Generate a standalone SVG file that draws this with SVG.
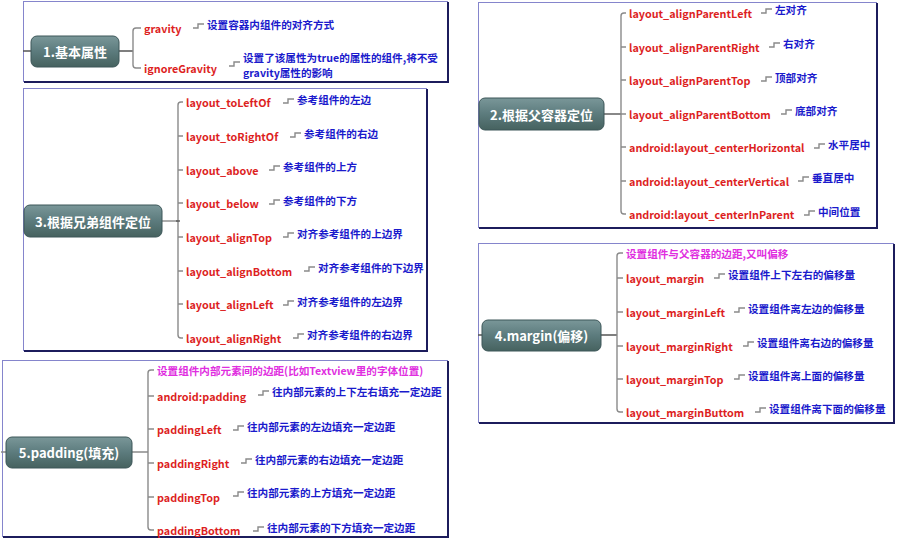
<svg xmlns="http://www.w3.org/2000/svg" xmlns:xlink="http://www.w3.org/1999/xlink" width="897" height="538" viewBox="0 0 897 538">
<defs>
<linearGradient id="ng" x1="0" y1="0" x2="0" y2="1">
<stop offset="0" stop-color="#7a9799"/>
<stop offset="0.5" stop-color="#5c7b7d"/>
<stop offset="1" stop-color="#46625f"/>
</linearGradient>
<path id="dc" d="M0,4 h5 v-4 h6" fill="none" stroke="#8a8a8a" stroke-width="1.4"/>
<style>
.box{fill:#fff;stroke:#8585cc;stroke-width:1}
.sh{stroke:#1c1c5c;stroke-width:2;fill:none}
.nr{fill:url(#ng);stroke:#3c5658;stroke-width:1}
.nt{fill:#fff;font:bold 13px "Noto Sans CJK SC","Open Sans",sans-serif;text-anchor:middle;dominant-baseline:central}
.lb{fill:#dd1f1f;font:bold 10.8px "Noto Sans CJK SC","Open Sans",sans-serif;dominant-baseline:central}
.ds{fill:#1a1acc;font:bold 10.6px "Noto Sans CJK SC",sans-serif;dominant-baseline:central}
.mg{fill:#e02ee0;font:bold 10.6px "Noto Sans CJK SC",sans-serif;dominant-baseline:central}
.ln{fill:none;stroke:#8a8a8a;stroke-width:1.4}
.dk{fill:none;stroke:#555;stroke-width:1.4}
</style>
</defs>
<rect width="897" height="538" fill="#fff"/>

<!-- frames -->
<g id="frames">
<rect class="box" x="23.5" y="1.5" width="424" height="80"/>
<path class="sh" d="M448,2 V82 H24"/>
<rect class="box" x="23.5" y="88.5" width="403" height="262"/>
<path class="sh" d="M427,89 V351 H24"/>
<rect class="box" x="2.5" y="360.5" width="445" height="176"/>
<path class="sh" d="M448,361 V537 H3"/>
<rect class="box" x="478.5" y="2.5" width="398" height="225"/>
<path class="sh" d="M877,3 V228 H479"/>
<rect class="box" x="478.5" y="243.5" width="415" height="179"/>
<path class="sh" d="M894,244 V423 H479"/>
</g>

<!-- connectors -->
<g id="connectors">
<!-- section 1 -->
<path class="dk" d="M23,51 H31 M119,51 H133"/>
<path class="ln" d="M141,28 H136 Q133,28 133,31 V65 Q133,68 136,68 H141"/>
<use href="#dc" x="193" y="24"/>
<use href="#dc" x="229" y="62"/>
<!-- section 3 -->
<path class="ln" d="M162,221 H178"/>
<path class="ln" d="M183,102 H181 Q178,102 178,105 V335 Q178,338 181,338 H183 M178,136 H183 M178,170 H183 M178,203 H183 M178,237 H183 M178,271 H183 M178,304 H183"/>
<path class="dk" d="M176,221 H180"/>
<use href="#dc" x="283" y="99"/>
<use href="#dc" x="290" y="133"/>
<use href="#dc" x="269" y="166"/>
<use href="#dc" x="269" y="200"/>
<use href="#dc" x="283" y="233"/>
<use href="#dc" x="304" y="267"/>
<use href="#dc" x="283" y="301"/>
<use href="#dc" x="293" y="334"/>
<!-- section 5 -->
<path class="ln" d="M1,452 H6 M132,452 H148"/>
<path class="ln" d="M154,370 H151 Q148,370 148,373 V527 Q148,530 151,530 H154 M148,396 H154 M148,429 H154 M148,463 H154 M148,497 H154"/>
<use href="#dc" x="258" y="391"/>
<use href="#dc" x="233" y="426"/>
<use href="#dc" x="241" y="459"/>
<use href="#dc" x="233" y="492"/>
<use href="#dc" x="253" y="527"/>
<!-- section 2 -->
<path class="dk" d="M604,114 H621"/>
<path class="ln" d="M626,13 H624 Q621,13 621,16 V211 Q621,214 624,214 H626 M621,47 H626 M621,80 H626 M621,114 H626 M621,147 H626 M621,181 H626"/>
<use href="#dc" x="761" y="9"/>
<use href="#dc" x="769" y="43"/>
<use href="#dc" x="761" y="77"/>
<use href="#dc" x="781" y="110"/>
<use href="#dc" x="814" y="144"/>
<use href="#dc" x="798" y="177"/>
<use href="#dc" x="804" y="211"/>
<!-- section 4 -->
<path class="dk" d="M478,335 H482 M601,335 H617"/>
<path class="ln" d="M623,253 H620 Q617,253 617,256 V409 Q617,412 620,412 H623 M617,278 H623 M617,312 H623 M617,346 H623 M617,379 H623"/>
<use href="#dc" x="714" y="274"/>
<use href="#dc" x="734" y="308"/>
<use href="#dc" x="743" y="342"/>
<use href="#dc" x="734" y="375"/>
<use href="#dc" x="755" y="408"/>
</g>

<!-- section 1 -->
<g id="n1">
<rect class="nr" x="31" y="36" width="88" height="31" rx="6"/>
<text class="nt" x="75" y="51">1.基本属性</text>
</g>
<g id="n1-gravity"><text class="lb" x="144" y="28">gravity</text><text class="ds" x="207" y="24">设置容器内组件的对齐方式</text></g>
<g id="n1-ignore"><text class="lb" x="144" y="68">ignoreGravity</text><text class="ds" x="243" y="57">设置了该属性为true的属性的组件,将不受</text><text class="ds" x="243" y="72">gravity属性的影响</text></g>

<!-- section 3 -->
<g id="n3">
<rect class="nr" x="24" y="205" width="138" height="32" rx="6"/>
<text class="nt" x="93" y="221">3.根据兄弟组件定位</text>
</g>
<g id="n3-c1"><text class="lb" x="186" y="102">layout_toLeftOf</text><text class="ds" x="297" y="99">参考组件的左边</text></g>
<g id="n3-c2"><text class="lb" x="186" y="136">layout_toRightOf</text><text class="ds" x="304" y="133">参考组件的右边</text></g>
<g id="n3-c3"><text class="lb" x="186" y="170">layout_above</text><text class="ds" x="283" y="166">参考组件的上方</text></g>
<g id="n3-c4"><text class="lb" x="186" y="203">layout_below</text><text class="ds" x="283" y="200">参考组件的下方</text></g>
<g id="n3-c5"><text class="lb" x="186" y="237">layout_alignTop</text><text class="ds" x="297" y="233">对齐参考组件的上边界</text></g>
<g id="n3-c6"><text class="lb" x="186" y="271">layout_alignBottom</text><text class="ds" x="318" y="267">对齐参考组件的下边界</text></g>
<g id="n3-c7"><text class="lb" x="186" y="304">layout_alignLeft</text><text class="ds" x="297" y="301">对齐参考组件的左边界</text></g>
<g id="n3-c8"><text class="lb" x="186" y="338">layout_alignRight</text><text class="ds" x="307" y="334">对齐参考组件的右边界</text></g>

<!-- section 5 -->
<g id="n5">
<rect class="nr" x="6" y="437" width="126" height="31" rx="6"/>
<text class="nt" x="69" y="452">5.padding(填充)</text>
</g>
<g id="n5-c0"><text class="mg" x="157" y="370">设置组件内部元素间的边距(比如Textview里的字体位置)</text></g>
<g id="n5-c1"><text class="lb" x="157" y="396">android:padding</text><text class="ds" x="272" y="391">往内部元素的上下左右填充一定边距</text></g>
<g id="n5-c2"><text class="lb" x="157" y="429">paddingLeft</text><text class="ds" x="247" y="426">往内部元素的左边填充一定边距</text></g>
<g id="n5-c3"><text class="lb" x="157" y="463">paddingRight</text><text class="ds" x="255" y="459">往内部元素的右边填充一定边距</text></g>
<g id="n5-c4"><text class="lb" x="157" y="497">paddingTop</text><text class="ds" x="247" y="492">往内部元素的上方填充一定边距</text></g>
<g id="n5-c5"><text class="lb" x="157" y="530">paddingBottom</text><text class="ds" x="267" y="527">往内部元素的下方填充一定边距</text></g>

<!-- section 2 -->
<g id="n2">
<rect class="nr" x="479" y="98" width="125" height="32" rx="6"/>
<text class="nt" x="541.5" y="114">2.根据父容器定位</text>
</g>
<g id="n2-c1"><text class="lb" x="629" y="13">layout_alignParentLeft</text><text class="ds" x="775" y="9">左对齐</text></g>
<g id="n2-c2"><text class="lb" x="629" y="47">layout_alignParentRight</text><text class="ds" x="783" y="43">右对齐</text></g>
<g id="n2-c3"><text class="lb" x="629" y="80">layout_alignParentTop</text><text class="ds" x="775" y="77">顶部对齐</text></g>
<g id="n2-c4"><text class="lb" x="629" y="114">layout_alignParentBottom</text><text class="ds" x="795" y="110">底部对齐</text></g>
<g id="n2-c5"><text class="lb" x="629" y="147">android:layout_centerHorizontal</text><text class="ds" x="828" y="144">水平居中</text></g>
<g id="n2-c6"><text class="lb" x="629" y="181">android:layout_centerVertical</text><text class="ds" x="812" y="177">垂直居中</text></g>
<g id="n2-c7"><text class="lb" x="629" y="214">android:layout_centerInParent</text><text class="ds" x="818" y="211">中间位置</text></g>

<!-- section 4 -->
<g id="n4">
<rect class="nr" x="482" y="320" width="119" height="31" rx="6"/>
<text class="nt" x="541.5" y="335">4.margin(偏移)</text>
</g>
<g id="n4-c0"><text class="mg" x="626" y="253">设置组件与父容器的边距,又叫偏移</text></g>
<g id="n4-c1"><text class="lb" x="626" y="278">layout_margin</text><text class="ds" x="728" y="274">设置组件上下左右的偏移量</text></g>
<g id="n4-c2"><text class="lb" x="626" y="312">layout_marginLeft</text><text class="ds" x="748" y="308">设置组件离左边的偏移量</text></g>
<g id="n4-c3"><text class="lb" x="626" y="346">layout_marginRight</text><text class="ds" x="757" y="342">设置组件离右边的偏移量</text></g>
<g id="n4-c4"><text class="lb" x="626" y="379">layout_marginTop</text><text class="ds" x="748" y="375">设置组件离上面的偏移量</text></g>
<g id="n4-c5"><text class="lb" x="626" y="412">layout_marginButtom</text><text class="ds" x="769" y="408">设置组件离下面的偏移量</text></g>
</svg>
